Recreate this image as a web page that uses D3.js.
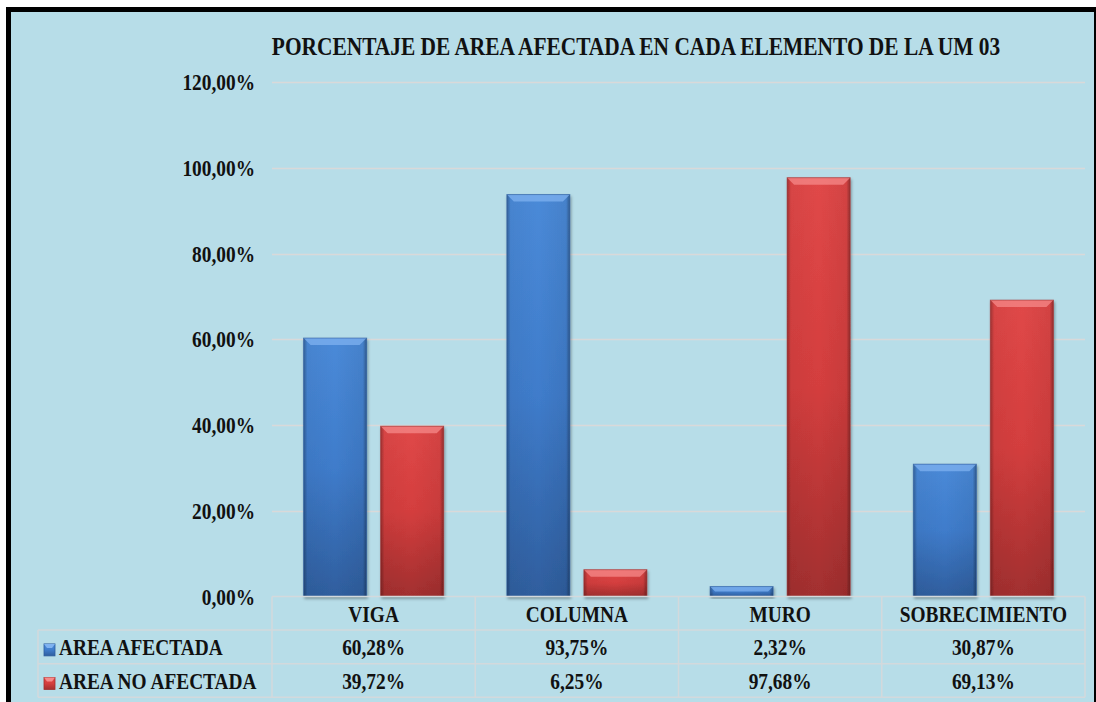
<!DOCTYPE html>
<html>
<head>
<meta charset="utf-8">
<script src="https://cdn.jsdelivr.net/npm/d3@7"></script>
<style>
  html, body { margin: 0; padding: 0; background: #fff; }
  svg { display: block; }
  text { font-family: "Liberation Serif", "Times New Roman", serif; font-weight: bold; fill: #111; }
</style>
</head>
<body>
<svg id="chart" width="1096" height="702"></svg>
<script>
// chart data
const categories = ["VIGA", "COLUMNA", "MURO", "SOBRECIMIENTO"];
const seriesNames = ["AREA AFECTADA", "AREA NO AFECTADA"];
const areaAfectada = [60.28, 93.75, 2.32, 30.87];
const areaNoAfectada = [39.72, 6.25, 97.68, 69.13];
const yTicks = [0, 20, 40, 60, 80, 100, 120];
const titleText = "PORCENTAJE DE AREA AFECTADA EN CADA ELEMENTO DE LA UM 03";

const seriesValues = [areaAfectada, areaNoAfectada];
const colors = [
  { top: "#4a8ad8", mid: "#3f7ccb", bottom: "#2f5e9e", light: "#7fb2f0" },
  { top: "#e04848", mid: "#d43e3e", bottom: "#a22f2f", light: "#f58a8a" }
];

const locale = d3.formatLocale({ decimal: ",", thousands: ".", grouping: [3], currency: ["", ""] });
const pct = v => locale.format(".2%")(v / 100);

const svg = d3.select("#chart");
const W = 1096, H = 702;
const plot = { left: 272, right: 1085, top: 82, bottom: 596.5 };
const tableLeft = 38, rowH = 33.6;
const sx = 0.842; // text is drawn narrow like the original

// background + frame
svg.append("rect").attr("x", 8.5).attr("y", 9.5)
  .attr("width", W - 8).attr("height", H)
  .attr("fill", "#b7dde8").attr("stroke", "#000").attr("stroke-width", 5);

const defs = svg.append("defs");
colors.forEach((c, i) => {
  const g = defs.append("linearGradient").attr("id", "fill" + i)
    .attr("x1", 0).attr("y1", 0).attr("x2", 0).attr("y2", 1);
  g.append("stop").attr("offset", "0%").attr("stop-color", c.top);
  g.append("stop").attr("offset", "50%").attr("stop-color", c.mid);
  g.append("stop").attr("offset", "100%").attr("stop-color", c.bottom);
});
const side = defs.append("linearGradient").attr("id", "side")
  .attr("x1", 0).attr("y1", 0).attr("x2", 1).attr("y2", 0);
[[0, 0.3], [0.06, 0.04], [0.5, 0], [0.94, 0.06], [1, 0.35]].forEach(([o, a]) =>
  side.append("stop").attr("offset", o).attr("stop-color", "#000").attr("stop-opacity", a));
const shadow = defs.append("filter").attr("id", "shadow")
  .attr("x", "-20%").attr("y", "-20%").attr("width", "140%").attr("height", "140%");
shadow.append("feDropShadow").attr("dx", 1).attr("dy", 2).attr("stdDeviation", 1.5)
  .attr("flood-color", "#000").attr("flood-opacity", 0.35);

// scales
const x0 = d3.scaleBand().domain(categories).range([plot.left, plot.right]).padding(0);
const x1 = d3.scaleBand().domain(seriesNames).range([0, x0.bandwidth()])
  .paddingInner(0.182).paddingOuter(0.41);
const y = d3.scaleLinear().domain([0, 120]).range([plot.bottom, plot.top]);

function label(sel, x, yy, txt, size, anchor, k) {
  return sel.append("text")
    .attr("transform", `translate(${x},${yy}) scale(${k || sx},1)`)
    .attr("text-anchor", anchor || "middle")
    .style("font-size", size + "px")
    .text(txt);
}

// title
label(svg, 636, 55, titleText, 25, "middle", 0.856);

// gridlines + y labels
svg.append("g").selectAll("line").data(yTicks.filter(d => d > 0)).join("line")
  .attr("x1", plot.left).attr("x2", plot.right)
  .attr("y1", d => Math.round(y(d)) + 0.5).attr("y2", d => Math.round(y(d)) + 0.5)
  .attr("stroke", "#d9d9d9").attr("stroke-width", 1.5);
const yLab = svg.append("g");
yTicks.forEach(t => label(yLab, 255, y(t) + 8, pct(t), 23, "end"));

// bars
const barG = svg.append("g");
categories.forEach((cat, ci) => {
  seriesNames.forEach((s, si) => {
    const v = seriesValues[si][ci];
    const bx = x0(cat) + x1(s), bw = x1.bandwidth();
    const by = y(v), bh = y(0) - y(v);
    const g = barG.append("g").attr("filter", "url(#shadow)");
    g.append("rect").attr("x", bx).attr("y", by).attr("width", bw).attr("height", bh)
      .attr("fill", `url(#fill${si})`);
    g.append("rect").attr("x", bx).attr("y", by).attr("width", bw).attr("height", bh)
      .attr("fill", "url(#side)");
    const bev = Math.min(7, bh / 2);
    g.append("polygon")
      .attr("points", [[bx, by], [bx + bw, by], [bx + bw - bev, by + bev], [bx + bev, by + bev]].join(" "))
      .attr("fill", colors[si].light).attr("opacity", 0.75);
    g.append("rect").attr("x", bx).attr("y", by).attr("width", bw).attr("height", bh)
      .attr("fill", "none").attr("stroke", colors[si].bottom).attr("stroke-opacity", 0.6);
  });
});

// data table
const tbl = svg.append("g");
const tableBottom = plot.bottom + rowH * 3;
const lineC = "#d3d9dc";
tbl.append("line").attr("x1", plot.left).attr("x2", plot.right)
  .attr("y1", plot.bottom).attr("y2", plot.bottom).attr("stroke", lineC).attr("stroke-width", 1.5);
[1, 2, 3].forEach(r => tbl.append("line").attr("x1", tableLeft).attr("x2", plot.right)
  .attr("y1", plot.bottom + rowH * r).attr("y2", plot.bottom + rowH * r)
  .attr("stroke", lineC).attr("stroke-width", 1.5));
tbl.append("line").attr("x1", tableLeft).attr("x2", tableLeft)
  .attr("y1", plot.bottom + rowH).attr("y2", tableBottom).attr("stroke", lineC).attr("stroke-width", 1.5);
categories.concat([null]).forEach(cat => {
  const xx = cat ? x0(cat) : plot.right;
  tbl.append("line").attr("x1", xx).attr("x2", xx)
    .attr("y1", plot.bottom).attr("y2", tableBottom).attr("stroke", lineC).attr("stroke-width", 1.5);
});
categories.forEach((cat, ci) => {
  const cx = x0(cat) + x0.bandwidth() / 2;
  label(tbl, cx, plot.bottom + rowH * 0.5 + 8.5, cat, 23);
  seriesValues.forEach((vals, si) =>
    label(tbl, cx, plot.bottom + rowH * (si + 1.5) + 8, pct(vals[ci]), 23));
});
seriesNames.forEach((s, si) => {
  const cy = plot.bottom + rowH * (si + 1.5);
  tbl.append("rect").attr("x", 44).attr("y", cy - 3).attr("width", 11).attr("height", 12)
    .attr("fill", `url(#fill${si})`).attr("stroke", colors[si].bottom).attr("stroke-width", 0.8);
  tbl.append("polygon")
    .attr("points", [[44, cy - 3], [55, cy - 3], [52, cy + 1], [47, cy + 1]].join(" "))
    .attr("fill", colors[si].light);
  label(tbl, 59, cy + 8, s, 23, "start");
});
</script>
</body>
</html>
